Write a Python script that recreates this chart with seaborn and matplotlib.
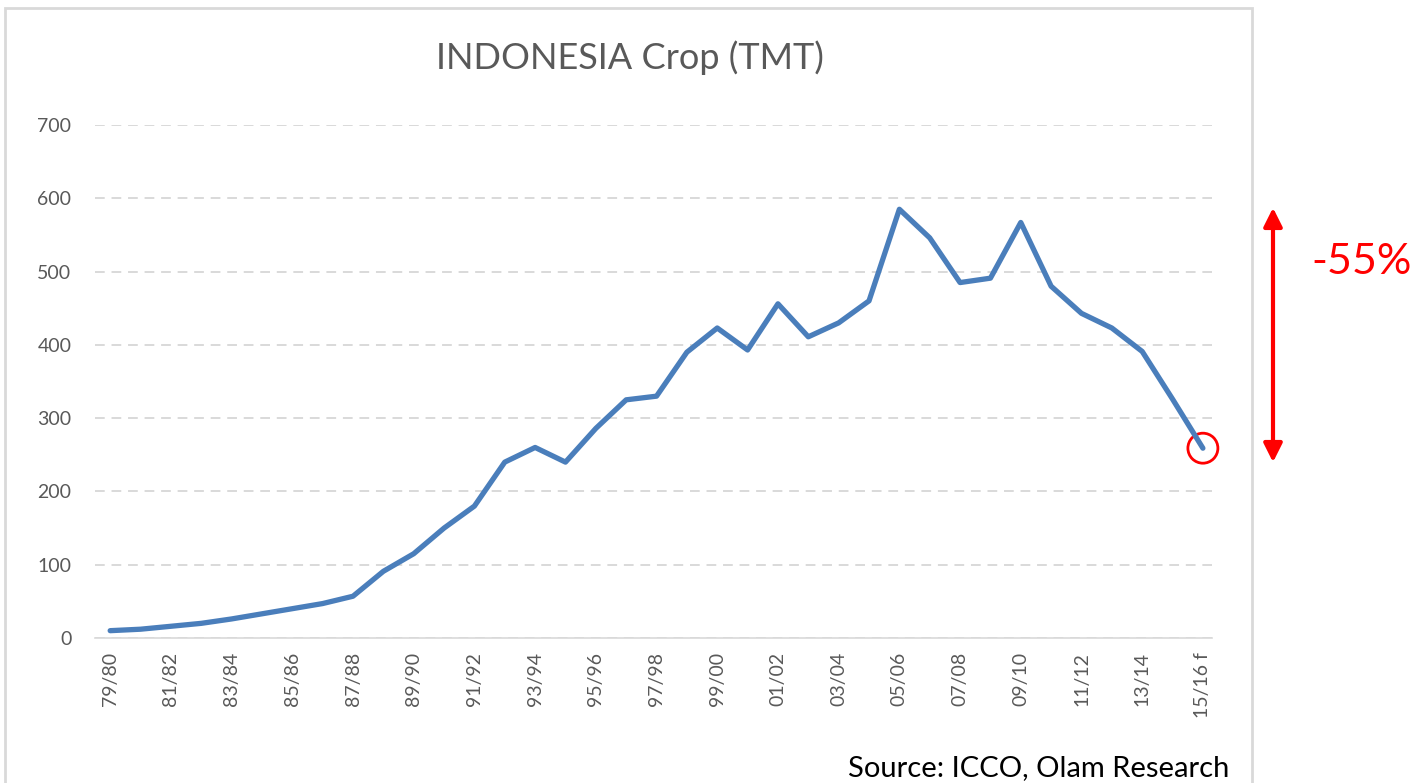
import matplotlib
matplotlib.use('Agg')
import matplotlib.pyplot as plt
import seaborn as sns
import pandas as pd
from matplotlib.patches import Rectangle, Ellipse, FancyArrowPatch

seasons = ['79/80', '80/81', '81/82', '82/83', '83/84', '84/85', '85/86', '86/87',
           '87/88', '88/89', '89/90', '90/91', '91/92', '92/93', '93/94', '94/95',
           '95/96', '96/97', '97/98', '98/99', '99/00', '00/01', '01/02', '02/03',
           '03/04', '04/05', '05/06', '06/07', '07/08', '08/09', '09/10', '10/11',
           '11/12', '12/13', '13/14', '14/15', '15/16 f']
crop = [10, 12, 16, 20, 26, 33, 40, 47, 57, 91, 115, 150, 180, 240, 260, 240,
        286, 325, 330, 390, 423, 393, 456, 411, 430, 460, 585, 546, 485, 491,
        567, 480, 443, 423, 391, 326, 259]
yticks = [0, 100, 200, 300, 400, 500, 600, 700]

df = pd.DataFrame({'pos': range(len(seasons)), 'crop': crop})

sns.set_style('white')
plt.rcParams['font.family'] = ['Lato', 'DejaVu Sans']

fig = plt.figure(figsize=(14.16, 7.83), dpi=100)
ax = fig.add_axes([95 / 1416, 1 - 638 / 783, (1212 - 95) / 1416, (638 - 125) / 783])

sns.lineplot(data=df, x='pos', y='crop', ax=ax, color='#4a7ebb', linewidth=3.8)

ax.set_xlim(-0.5, 36.3)
ax.set_ylim(0, 700)
ax.set_yticks(yticks)
ax.set_yticklabels([str(v) for v in yticks], color='#595959', fontsize=14)
ax.set_xticks(range(0, len(seasons), 2))
ax.set_xticklabels(seasons[::2], rotation=90, color='#595959', fontsize=14)
ax.tick_params(axis='x', length=0, pad=10)
ax.tick_params(axis='y', length=0, pad=17)
ax.set_xlabel('')
ax.set_ylabel('')
ax.yaxis.grid(True, color='#d9d9d9', linestyle=(0, (5, 3.5)), linewidth=1.4)
ax.set_axisbelow(True)
for s in ['top', 'right', 'left']:
    ax.spines[s].set_visible(False)
ax.spines['bottom'].set_color('#d9d9d9')
ax.spines['bottom'].set_linewidth(1.2)

# highlight last forecast value
ax.add_patch(Ellipse((len(crop) - 1, crop[-1]), width=30 / 30.36, height=30 / 0.733,
                     fill=False, edgecolor='red', linewidth=2, clip_on=False))

# chart frame
fig.patches.append(Rectangle((5 / 1416, -0.01), (1252 - 5) / 1416, 1 - 8 / 783 + 0.01,
                             transform=fig.transFigure, fill=False,
                             edgecolor='#d9d9d9', linewidth=2))

fig.text(630 / 1416, 1 - 58 / 783, 'INDONESIA Crop (TMT)', ha='center', va='center',
         fontsize=26, color='#595959')

# drop arrow
fig.patches.append(FancyArrowPatch(
    (1273 / 1416, 1 - 465 / 783), (1273 / 1416, 1 - 205 / 783),
    transform=fig.transFigure, arrowstyle='<|-|>', mutation_scale=28,
    color='red', linewidth=3))
fig.text(1362 / 1416, 1 - 262 / 783, '-55%', ha='center', va='center',
         fontsize=31, color='red')

fig.text(1229 / 1416, 1 - 768 / 783, 'Source: ICCO, Olam Research', ha='right',
         va='center', fontsize=21, color='black')

fig.savefig('out.png', dpi=100)
